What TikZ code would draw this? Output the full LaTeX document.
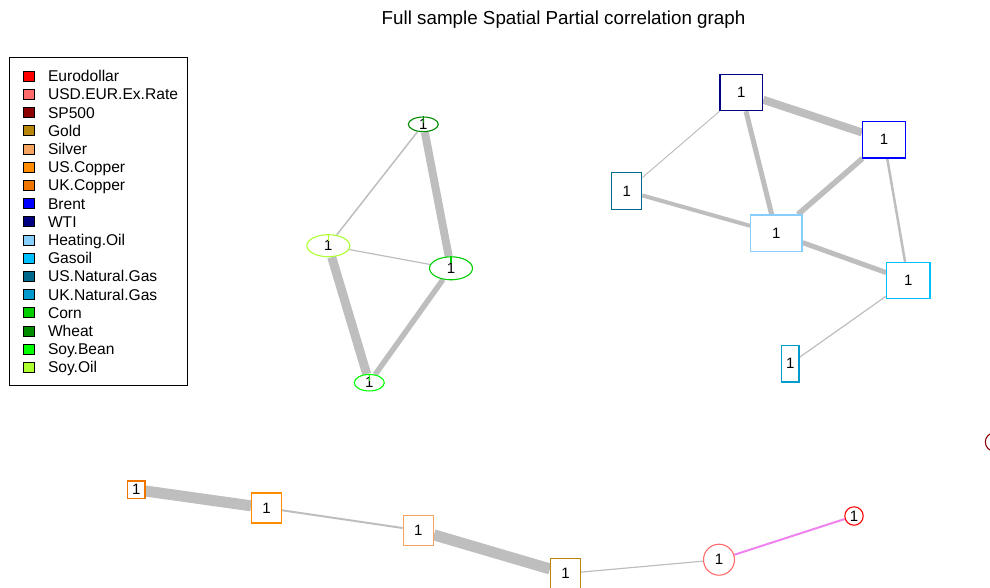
\documentclass[tikz,border=0pt]{standalone}
\usepackage{fontspec}
\setmainfont{Liberation Sans}
\usepackage{tikz}
\usetikzlibrary{positioning,shapes.geometric,backgrounds}

\definecolor{cEuro}{HTML}{FF0000}
\definecolor{cUSDEUR}{HTML}{FF6A6A}
\definecolor{cSP}{HTML}{8B0000}
\definecolor{cGold}{HTML}{B8860B}
\definecolor{cSilver}{HTML}{F4A460}
\definecolor{cUSCu}{HTML}{FF8C00}
\definecolor{cUKCu}{HTML}{EE7600}
\definecolor{cBrent}{HTML}{0000FF}
\definecolor{cWTI}{HTML}{000080}
\definecolor{cHOil}{HTML}{87CEFA}
\definecolor{cGOil}{HTML}{00BFFF}
\definecolor{cUSNG}{HTML}{00688B}
\definecolor{cUKNG}{HTML}{009ACD}
\definecolor{cCorn}{HTML}{00CD00}
\definecolor{cWheat}{HTML}{008B00}
\definecolor{cSBean}{HTML}{00FF00}
\definecolor{cSOil}{HTML}{ADFF2F}
\definecolor{cWire}{HTML}{BEBEBE}
\definecolor{cViolet}{HTML}{EE82EE}

\begin{document}
\begin{tikzpicture}[
  x=1pt, y=-1pt,
  vbox/.style  = {draw, rectangle, fill=white, line width=1.2pt, inner sep=0pt,
                  font=\fontsize{15}{15}\selectfont},
  vell/.style  = {draw, ellipse, fill=white, line width=1.1pt, inner sep=0pt,
                  font=\fontsize{15}{15}\selectfont},
  vcirc/.style = {draw, circle, fill=white, line width=1.1pt, inner sep=0pt,
                  font=\fontsize{15}{15}\selectfont},
  wire/.style  = {draw=cWire},
  key/.style   = {draw=black, line width=0.6pt, minimum width=11pt,
                  minimum height=10pt, inner sep=0pt},
  keytext/.style = {font=\fontsize{15.6}{16}\selectfont, inner sep=0pt,
                  text height=11.2pt, text depth=0pt, right=13pt of #1},
]
\useasboundingbox (0,0) rectangle (990,587);
\clip (0,0) rectangle (990,587);

% ========== Title ==========
\node[font=\fontsize{18.8}{19}\selectfont] (title) at (563.5,20)
  {Full sample Spatial Partial correlation graph};

% ========== Legend ==========
\draw[line width=0.9pt] (9,57) rectangle (187,385);
\node[key, fill=cEuro]   (kEuro)   at (29,76.0)  {};
\node[key, fill=cUSDEUR] (kUSDEUR) at (29,94.2)  {};
\node[key, fill=cSP]     (kSP)     at (29,112.4) {};
\node[key, fill=cGold]   (kGold)   at (29,130.6) {};
\node[key, fill=cSilver] (kSilver) at (29,148.8) {};
\node[key, fill=cUSCu]   (kUSCu)   at (29,167.0) {};
\node[key, fill=cUKCu]   (kUKCu)   at (29,185.2) {};
\node[key, fill=cBrent]  (kBrent)  at (29,203.4) {};
\node[key, fill=cWTI]    (kWTI)    at (29,221.6) {};
\node[key, fill=cHOil]   (kHOil)   at (29,239.8) {};
\node[key, fill=cGOil]   (kGOil)   at (29,258.0) {};
\node[key, fill=cUSNG]   (kUSNG)   at (29,276.2) {};
\node[key, fill=cUKNG]   (kUKNG)   at (29,294.4) {};
\node[key, fill=cCorn]   (kCorn)   at (29,312.6) {};
\node[key, fill=cWheat]  (kWheat)  at (29,330.8) {};
\node[key, fill=cSBean]  (kSBean)  at (29,349.0) {};
\node[key, fill=cSOil]   (kSOil)   at (29,367.2) {};

\node[keytext=kEuro]   {Eurodollar};
\node[keytext=kUSDEUR] {USD.EUR.Ex.Rate};
\node[keytext=kSP]     {SP500};
\node[keytext=kGold]   {Gold};
\node[keytext=kSilver] {Silver};
\node[keytext=kUSCu]   {US.Copper};
\node[keytext=kUKCu]   {UK.Copper};
\node[keytext=kBrent]  {Brent};
\node[keytext=kWTI]    {WTI};
\node[keytext=kHOil]   {Heating.Oil};
\node[keytext=kGOil]   {Gasoil};
\node[keytext=kUSNG]   {US.Natural.Gas};
\node[keytext=kUKNG]   {UK.Natural.Gas};
\node[keytext=kCorn]   {Corn};
\node[keytext=kWheat]  {Wheat};
\node[keytext=kSBean]  {Soy.Bean};
\node[keytext=kSOil]   {Soy.Oil};

% ========== Grains (ellipses) ==========
\node[vell, draw=cWheat, minimum width=30pt, minimum height=14pt]   (Wheat) at (423.3,124.3) {1};
\node[vell, draw=cSOil,  minimum width=43pt, minimum height=22pt]   (SOil)  at (328.3,245.7) {1};
\node[vell, draw=cCorn,  minimum width=43pt, minimum height=23pt]   (Corn)  at (451.0,268.3) {1};
\node[vell, draw=cSBean, minimum width=30pt, minimum height=16.5pt] (SBean) at (369.3,382.7) {1};

\draw[cWheat, line width=1.2pt] (Wheat.north) -- ++(0,7);
\draw[cSOil,  line width=1.2pt] (SOil.north)  -- ++(0,7);
\draw[cCorn,  line width=1.2pt] (Corn.north)  -- ++(0,7);
\draw[cSBean, line width=1.2pt] (SBean.north) -- ++(0,7);

% ========== Energy (boxes) ==========
\node[vbox, draw=cWTI,   minimum width=42.7pt, minimum height=36.3pt] (WTI)   at (741.3,92.5)  {1};
\node[vbox, draw=cBrent, minimum width=42.7pt, minimum height=36.3pt] (Brent) at (884.0,139.8) {1};
\node[vbox, draw=cUSNG,  minimum width=30pt,   minimum height=36.6pt] (USNG)  at (626.7,191.0) {1};
\node[vbox, draw=cHOil,  minimum width=51.3pt, minimum height=36.3pt] (HOil)  at (776.3,233.2) {1};
\node[vbox, draw=cGOil,  minimum width=43.3pt, minimum height=36.3pt] (GOil)  at (908.3,280.5) {1};
\node[vbox, draw=cUKNG,  minimum width=17.3pt, minimum height=36.3pt] (UKNG)  at (790.3,363.8) {1};

% ========== Metals and financials (bottom) ==========
\node[vbox, draw=cUKCu,   minimum width=17.3pt, minimum height=17.3pt] (UKCu)   at (136.3,489.7) {1};
\node[vbox, draw=cUSCu,   minimum width=29.7pt, minimum height=30pt]   (USCu)   at (266.5,508.0) {1};
\node[vbox, draw=cSilver, minimum width=30pt,   minimum height=30pt]   (Silver) at (418.3,530.3) {1};
\node[vbox, draw=cGold,   minimum width=30pt,   minimum height=30pt]   (Gold)   at (565.5,573.5) {1};
\node[vcirc, draw=cUSDEUR, minimum size=31pt]   (USDEUR) at (719.0,559.7) {1};
\node[vcirc, draw=cEuro,   minimum size=18.4pt] (Euro)   at (854.0,516.0) {1};
% SP500 lies mostly off the page
\node[vcirc, draw=cSP,     minimum size=18.4pt] (SP)     at (994.5,442.0) {};

% ========== Edges ==========
\begin{pgfonlayer}{background}
  \draw[wire, line width=8pt]   (Wheat) -- (Corn);
  \draw[wire, line width=1.5pt] (Wheat) -- (SOil);
  \draw[wire, line width=1.2pt] (SOil)  -- (Corn);
  \draw[wire, line width=9pt]   (SOil)  -- (SBean);
  \draw[wire, line width=5.5pt] (Corn)  -- (SBean);

  \draw[wire, line width=8pt]   (WTI)   -- (Brent);
  \draw[wire, line width=1pt]   (WTI)   -- (USNG);
  \draw[wire, line width=5pt]   (WTI)   -- (HOil);
  \draw[wire, line width=5.5pt] (Brent) -- (HOil);
  \draw[wire, line width=2.5pt] (Brent) -- (GOil);
  \draw[wire, line width=4pt]   (USNG)  -- (HOil);
  \draw[wire, line width=5pt]   (HOil)  -- (GOil);
  \draw[wire, line width=1.2pt] (GOil)  -- (UKNG);

  \draw[wire, line width=11pt]  (UKCu)   -- (USCu);
  \draw[wire, line width=2pt]   (USCu)   -- (Silver);
  \draw[wire, line width=11pt]  (Silver) -- (Gold);
  \draw[wire, line width=1.2pt] (Gold)   -- (USDEUR);
  \draw[cViolet, line width=2pt] (USDEUR) -- (Euro);
\end{pgfonlayer}

\end{tikzpicture}
\end{document}
